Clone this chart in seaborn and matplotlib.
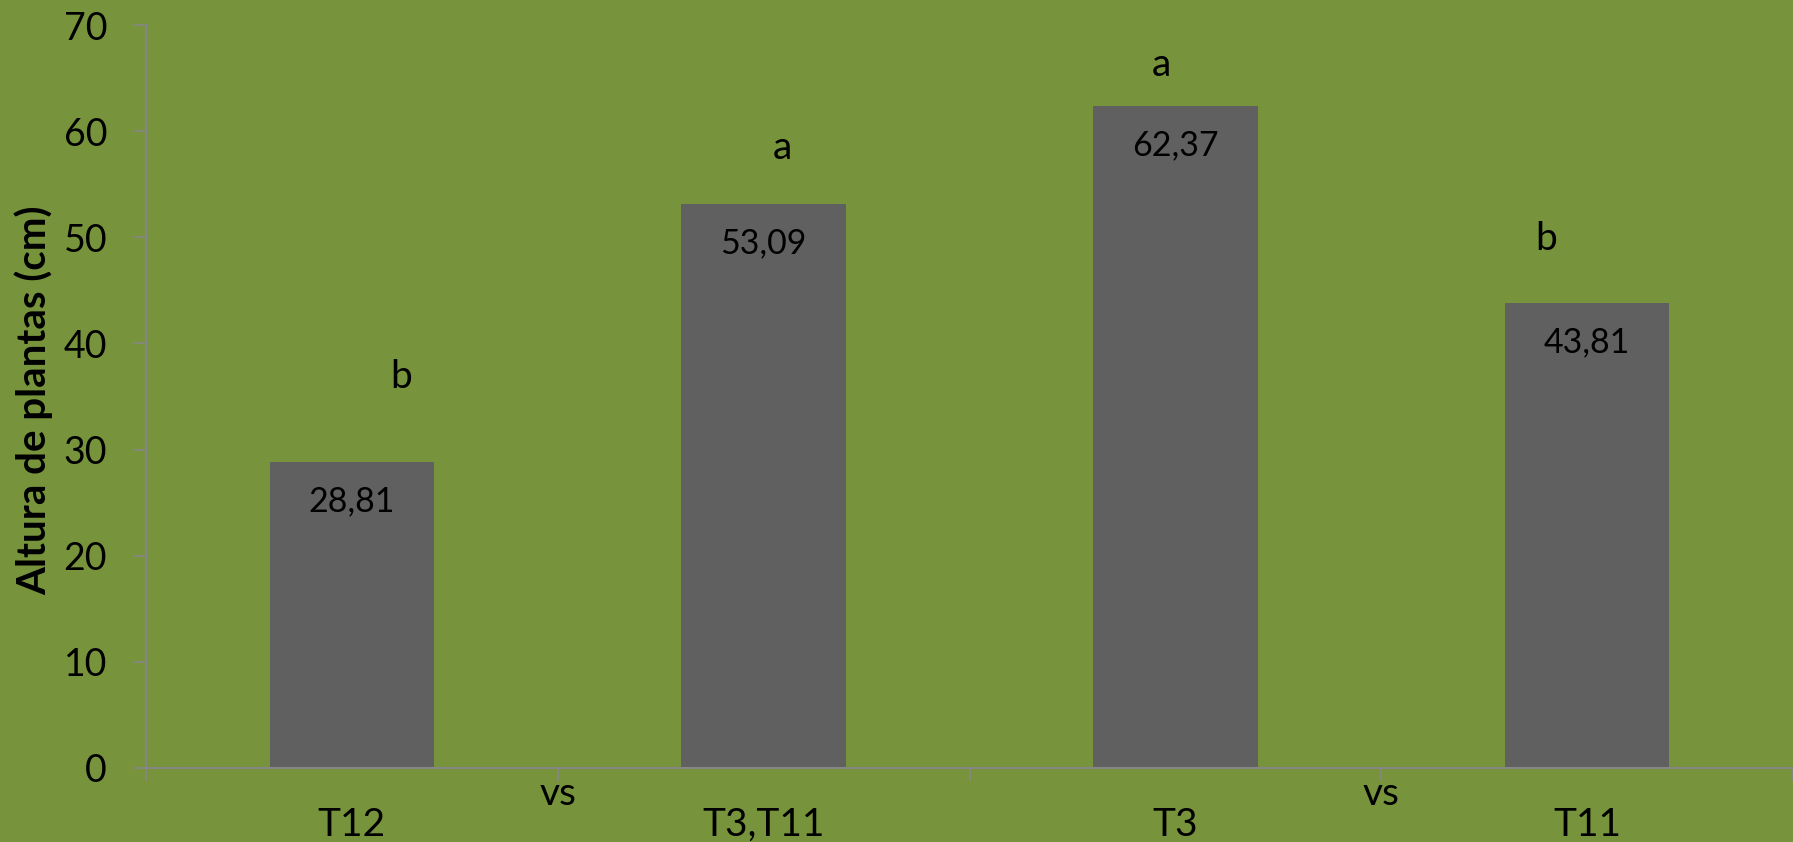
import matplotlib
matplotlib.use("Agg")
import matplotlib.pyplot as plt
import matplotlib.transforms as mtransforms
import seaborn as sns
import pandas as pd

categories = ["T12", "T3,T11", "T3", "T11"]
values = [28.81, 53.09, 62.37, 43.81]
value_labels = ["28,81", "53,09", "62,37", "43,81"]
letters = ["b", "a", "a", "b"]
letter_y = [36.8, 58.4, 66.2, 49.8]
letter_dx = [0.12, 0.045, -0.035, -0.10]
vs_positions = [0.5, 2.5]
vs_text = "vs"
y_ticks = [0, 10, 20, 30, 40, 50, 60, 70]

BG = "#77933C"
BAR = "#606060"
AXC = "#868686"

sns.set_theme(style="white")
plt.rcParams['font.family'] = ['Lato', 'DejaVu Sans']

fig = plt.figure(figsize=(17.93, 8.42), dpi=100, facecolor=BG)
ax = fig.add_axes([146/1793, 1 - 768/842, 1 - 146/1793, (768 - 25)/842])
ax.set_facecolor(BG)

df = pd.DataFrame({"cat": categories, "val": values})
sns.barplot(data=df, x="cat", y="val", color=BAR, saturation=1, width=0.4,
            linewidth=0, edgecolor=BAR, ax=ax)

ax.set_xlim(-0.5, 3.5)
ax.set_ylim(0, 70)
ax.set_yticks(y_ticks)
ax.set_yticklabels([str(t) for t in y_ticks], fontsize=27)
ax.tick_params(axis="y", direction="out", length=9, width=1.2, color=AXC, pad=19,
               left=True, labelcolor="black")

ax.set_xticks(range(len(categories)))
ax.set_xticklabels(categories, fontsize=28)
ax.tick_params(axis="x", which="major", length=0, pad=28, labelcolor="black")
ax.set_xticks([-0.5, 0.5, 1.5, 2.5, 3.5], minor=True)
ax.tick_params(axis="x", which="minor", direction="out", length=9, width=1.2, color=AXC, bottom=True)

for s in ["top", "right"]:
    ax.spines[s].set_visible(False)
for s in ["left", "bottom"]:
    ax.spines[s].set_color(AXC)
    ax.spines[s].set_linewidth(1.5)

ax.set_xlabel("")
ax.set_ylabel("")
fig.text(34/1793, 1 - 400/842, "Altura de plantas (cm)", rotation=90, ha="center", va="center",
         fontsize=29, fontweight="bold", color="black")

for i, (v, lab) in enumerate(zip(values, value_labels)):
    ax.text(i, v - 3.7, lab, ha="center", va="center", fontsize=24.5, color="black")
for i, (ly, lt, dx) in enumerate(zip(letter_y, letters, letter_dx)):
    ax.text(i + dx, ly, lt, ha="center", va="center", fontsize=28, color="black")

trans = mtransforms.blended_transform_factory(ax.transData, ax.transAxes)
off = mtransforms.offset_copy(trans, fig=fig, x=0, y=-26, units="dots")
for xp in vs_positions:
    ax.text(xp, 0, vs_text, transform=off, ha="center", va="center", fontsize=28, color="black")

fig.savefig("out.png", dpi=100, facecolor=BG)
